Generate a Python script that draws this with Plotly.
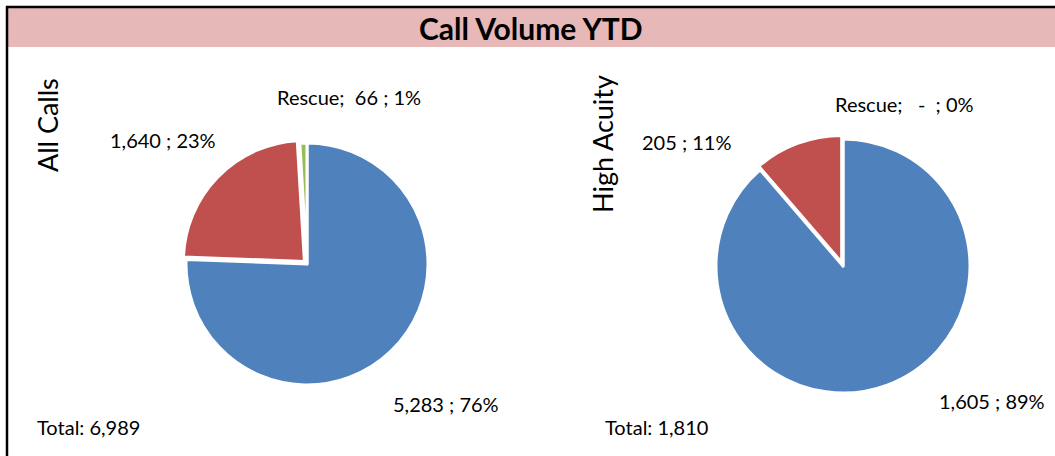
import plotly.graph_objects as go

# Data
categories = ["Other", "Secondary", "Rescue"]
all_calls = [5283, 1640, 66]
high_acuity = [1605, 205, 0]
chart_titles = ["All Calls", "High Acuity"]
main_title = "Call Volume YTD"
colors = ["#4F81BD", "#C0504D", "#9BBB59"]

W, H = 1055, 456
FONT = "Lato"
PULL = 0.03


def dom(cx, cy, r, pull):
    rr = r * (1 + pull)
    return dict(x=[(cx - rr) / W, (cx + rr) / W],
                y=[(H - cy - rr) / H, (H - cy + rr) / H])


def fmt(v):
    return f"{v:,}" if v else " - "


def pct(v, tot):
    return f"{round(100 * v / tot)}%"


fig = go.Figure()
pies = [
    (all_calls, 307, 264, 121),
    (high_acuity, 843, 266, 127),
]
for vals, cx, cy, r in pies:
    fig.add_trace(go.Pie(
        values=vals, labels=categories, sort=False, direction="clockwise",
        rotation=0, marker=dict(colors=colors, line=dict(color="white", width=3)),
        pull=[0, PULL, 0], textinfo="none", hoverinfo="label+value+percent",
        domain=dom(cx, cy, r, PULL), showlegend=False,
    ))

shapes = [
    dict(type="rect", xref="paper", yref="paper", x0=8 / W, x1=1, y0=1 - 47 / H, y1=1 - 8 / H,
         fillcolor="#E6B8B7", line=dict(width=0), layer="below"),
    dict(type="line", xref="paper", yref="paper", x0=6 / W, x1=1, y0=1 - 7 / H, y1=1 - 7 / H,
         line=dict(color="black", width=2.5)),
    dict(type="line", xref="paper", yref="paper", x0=7 / W, x1=7 / W, y0=0, y1=1 - 6 / H,
         line=dict(color="black", width=2.5)),
]

annotations = []


def ann(text, x, y, size=20, anchor="center", angle=0, bold=False):
    if bold:
        text = f"<b>{text}</b>"
    annotations.append(dict(text=text, x=x / W, y=1 - y / H, xref="paper", yref="paper",
                            showarrow=False, xanchor=anchor, yanchor="middle", textangle=angle,
                            font=dict(family=FONT, size=size, color="black")))


ann(main_title, 531, 28, size=30, bold=True)

# Left pie labels
t1 = sum(all_calls)
ann(f"{categories[2]};  {fmt(all_calls[2])} ; {pct(all_calls[2], t1)}", 349, 97)
ann(f"{fmt(all_calls[1])} ; {pct(all_calls[1], t1)}", 163, 140)
ann(f"{fmt(all_calls[0])} ; {pct(all_calls[0], t1)}", 446, 404)
ann(f"Total: {t1:,}", 35, 427, anchor="left")
ann(chart_titles[0], 47, 125, size=27, angle=-90)

# Right pie labels
t2 = sum(high_acuity)
ann(f"{categories[2]};  {fmt(high_acuity[2])} ; {pct(high_acuity[2], t2)}", 904, 104)
ann(f"{fmt(high_acuity[1])} ; {pct(high_acuity[1], t2)}", 687, 142)
ann(f"{fmt(high_acuity[0])} ; {pct(high_acuity[0], t2)}", 992, 401)
ann(f"Total: {t2:,}", 603, 427, anchor="left")
ann(chart_titles[1], 602, 144, size=27, angle=-90)

fig.update_layout(
    width=W, height=H, margin=dict(l=0, r=0, t=0, b=0),
    paper_bgcolor="white", plot_bgcolor="white",
    shapes=shapes, annotations=annotations,
)

fig.write_html("out.html", config={"displayModeBar": False},
               post_script="document.body.style.margin='0';")
